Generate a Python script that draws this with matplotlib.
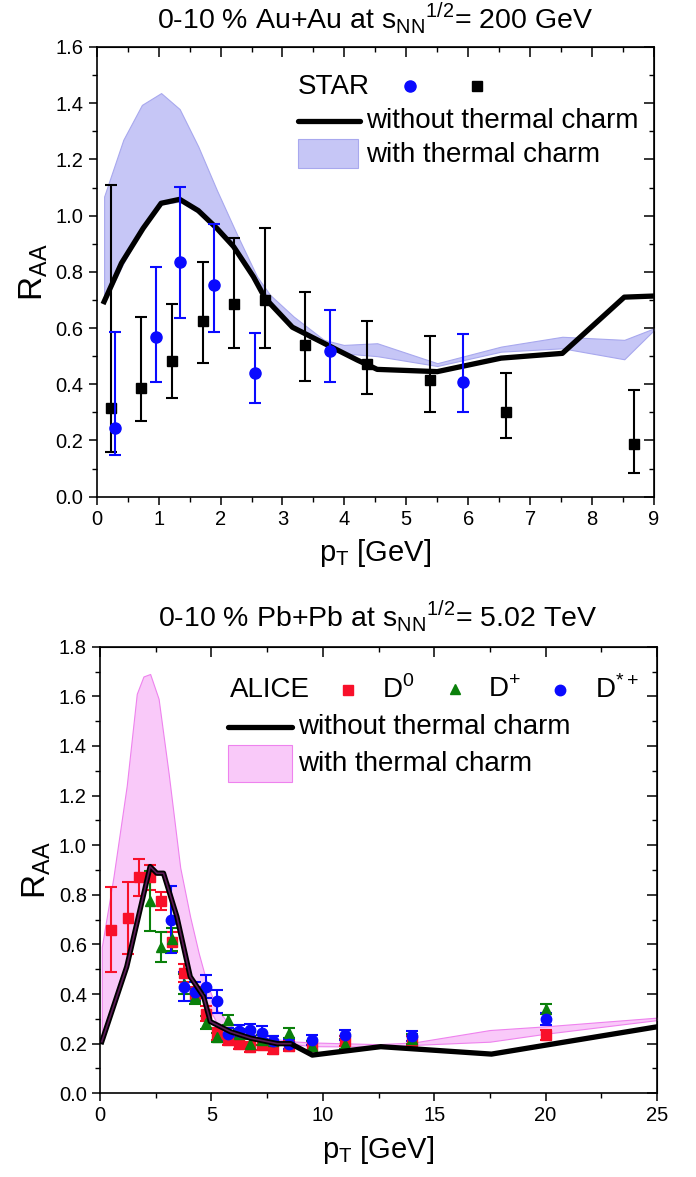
import numpy as np
import matplotlib
matplotlib.use('Agg')
import matplotlib.pyplot as plt
from matplotlib.patches import Rectangle
from matplotlib.ticker import MultipleLocator

plt.rcParams['font.family'] = ['Liberation Sans', 'DejaVu Sans']
plt.rcParams['mathtext.fontset'] = 'custom'
plt.rcParams['mathtext.rm'] = 'Liberation Sans'

# ---- top panel: Au+Au 200 GeV, STAR ----
star_sq_x = [0.23, 0.71, 1.21, 1.71, 2.21, 2.71, 3.37, 4.36, 5.39, 6.61, 8.67]
star_sq_y = [0.316, 0.388, 0.483, 0.625, 0.685, 0.70, 0.54, 0.472, 0.415, 0.302, 0.186]
star_sq_hi = [1.109, 0.641, 0.685, 0.835, 0.92, 0.957, 0.73, 0.626, 0.573, 0.439, 0.38]
star_sq_lo = [0.159, 0.269, 0.352, 0.477, 0.53, 0.53, 0.412, 0.364, 0.302, 0.21, 0.083]

star_ci_x = [0.30, 0.96, 1.34, 1.89, 2.56, 3.76, 5.91]
star_ci_y = [0.246, 0.567, 0.836, 0.753, 0.439, 0.52, 0.407]
star_ci_hi = [0.587, 0.818, 1.103, 0.969, 0.581, 0.664, 0.579]
star_ci_lo = [0.148, 0.409, 0.637, 0.585, 0.332, 0.407, 0.302]

rhic_x = [0.12, 0.40, 0.75, 1.04, 1.34, 1.64, 1.94, 2.21, 2.53, 2.72, 3.16, 3.67,
          4.21, 4.53, 5.50, 6.53, 7.52, 8.52, 9.0]
rhic_y = [0.694, 0.831, 0.955, 1.044, 1.058, 1.018, 0.955, 0.89, 0.783, 0.706, 0.603,
          0.546, 0.486, 0.453, 0.445, 0.493, 0.51, 0.71, 0.714]

rhic_band_x = [0.12, 0.43, 0.73, 1.04, 1.34, 1.64, 1.94, 2.27, 2.59, 2.80, 3.18, 3.67,
               3.99, 4.53, 5.50, 6.53, 7.52, 8.52, 9.0]
rhic_band_hi = [1.068, 1.27, 1.394, 1.436, 1.379, 1.246, 1.091, 0.931, 0.783, 0.718, 0.641,
                0.558, 0.54, 0.546, 0.475, 0.534, 0.569, 0.558, 0.599]
rhic_band_lo = [0.69, 0.83, 0.95, 1.04, 1.05, 1.01, 0.95, 0.87, 0.77, 0.70, 0.60,
                0.54, 0.51, 0.50, 0.465, 0.516, 0.528, 0.489, 0.593]

# ---- bottom panel: Pb+Pb 5.02 TeV, ALICE ----
d0_x = [0.5, 1.25, 1.75, 2.25, 2.75, 3.25, 3.75, 4.25, 4.75, 5.25, 5.75, 6.25, 6.75,
        7.25, 7.75, 8.5, 9.5, 11, 14, 20]
d0_y = [0.66, 0.705, 0.87, 0.87, 0.775, 0.61, 0.485, 0.40, 0.32, 0.24, 0.215, 0.20,
        0.185, 0.195, 0.18, 0.19, 0.19, 0.21, 0.21, 0.235]
d0_err = [0.17, 0.145, 0.075, 0.05, 0.035, 0.04, 0.035, 0.03, 0.03, 0.025, 0.02, 0.02,
          0.02, 0.02, 0.02, 0.02, 0.02, 0.02, 0.02, 0.02]

dp_x = [2.25, 2.75, 3.25, 3.75, 4.25, 4.75, 5.25, 5.75, 6.25, 6.75, 7.25, 7.75, 8.5,
        9.5, 11, 14, 20]
dp_y = [0.775, 0.59, 0.62, 0.44, 0.39, 0.285, 0.225, 0.295, 0.24, 0.20, 0.215, 0.21,
        0.242, 0.19, 0.20, 0.22, 0.34]
dp_err = [0.12, 0.06, 0.045, 0.04, 0.03, 0.025, 0.02, 0.02, 0.02, 0.02, 0.02, 0.02,
          0.02, 0.02, 0.02, 0.02, 0.02]

dst_x = [3.2, 3.75, 4.25, 4.75, 5.25, 5.75, 6.25, 6.75, 7.25, 7.75, 8.5, 9.5, 11, 14, 20]
dst_y = [0.70, 0.43, 0.41, 0.43, 0.37, 0.24, 0.25, 0.255, 0.245, 0.21, 0.20, 0.215,
         0.235, 0.23, 0.30]
dst_err = [0.135, 0.06, 0.04, 0.045, 0.047, 0.025, 0.025, 0.025, 0.025, 0.02, 0.02,
           0.02, 0.02, 0.02, 0.025]

lhc_x = [0.08, 1.20, 2.25, 2.55, 2.85, 3.45, 4.05, 4.65, 4.95, 5.86, 6.76, 7.96, 8.56,
         9.53, 12.6, 17.57, 25.0]
lhc_y = [0.208, 0.51, 0.914, 0.887, 0.887, 0.712, 0.47, 0.39, 0.289, 0.248, 0.222, 0.20,
         0.20, 0.154, 0.188, 0.158, 0.268]

lhc_band_x = [0.08, 0.6, 1.2, 1.65, 1.95, 2.25, 2.63, 3.08, 3.6, 4.05, 4.43, 4.8, 5.26,
              6.0, 7.5, 8.5, 9.5, 12.5, 14.1, 17.5, 20.0, 25.0]
lhc_band_hi = [0.59, 0.87, 1.24, 1.61, 1.68, 1.69, 1.59, 1.29, 0.91, 0.71, 0.565, 0.444,
               0.336, 0.26, 0.225, 0.21, 0.205, 0.198, 0.205, 0.255, 0.27, 0.305]
lhc_band_lo = [0.21, 0.37, 0.51, 0.68, 0.80, 0.91, 0.89, 0.85, 0.66, 0.47, 0.42, 0.36,
               0.28, 0.245, 0.215, 0.20, 0.19, 0.188, 0.195, 0.208, 0.24, 0.295]

W, H = 696, 1177
fig = plt.figure(figsize=(W / 100, H / 100), dpi=100)

LEG_FS = 20
TICK_FS = 14.5
TITLE_FS = 20.5


def frac(x0, y0, x1, y1):
    # pixel box -> figure fraction
    return [x0 / W, 1 - y1 / H, (x1 - x0) / W, (y1 - y0) / H]


def style_axes(ax, xmaj, xmin, ymaj, ymin):
    ax.xaxis.set_major_locator(MultipleLocator(xmaj))
    ax.xaxis.set_minor_locator(MultipleLocator(xmin))
    ax.yaxis.set_major_locator(MultipleLocator(ymaj))
    ax.yaxis.set_minor_locator(MultipleLocator(ymin))
    ax.yaxis.set_major_formatter(matplotlib.ticker.FormatStrFormatter('%.1f'))
    ax.tick_params(which='major', direction='out', length=6, width=1.1, labelsize=TICK_FS)
    ax.tick_params(which='minor', direction='out', length=3.5, width=1.0)
    for s in ax.spines.values():
        s.set_linewidth(1.2)
    top = ax.secondary_xaxis('top')
    top.xaxis.set_major_locator(MultipleLocator(xmaj))
    top.xaxis.set_minor_locator(MultipleLocator(xmin))
    top.tick_params(which='major', direction='in', length=7, width=1.1, labeltop=False)
    top.tick_params(which='minor', direction='in', length=3.5, width=1.0)
    right = ax.secondary_yaxis('right')
    right.yaxis.set_major_locator(MultipleLocator(ymaj))
    right.yaxis.set_minor_locator(MultipleLocator(ymin))
    right.tick_params(which='major', direction='in', length=7, width=1.1, labelright=False)
    right.tick_params(which='minor', direction='in', length=3.5, width=1.0)


# ================= top panel =================
ax1 = fig.add_axes(frac(96.7, 47, 654, 496.7))
band1_face, band1_edge = '#c6c6f6', '#a8a8ee'
ax1.fill_between(rhic_band_x, rhic_band_lo, rhic_band_hi, facecolor=band1_face,
                 edgecolor=band1_edge, lw=0.8, zorder=1)
ax1.plot(rhic_x, rhic_y, color='black', lw=3.8, solid_joinstyle='round', zorder=3)

sq_y = np.array(star_sq_y)
ax1.errorbar(star_sq_x, sq_y, yerr=[sq_y - np.array(star_sq_lo), np.array(star_sq_hi) - sq_y],
             fmt='s', color='black', ms=6.5, elinewidth=1.5, capsize=4, capthick=1.5, zorder=4)
ci_y = np.array(star_ci_y)
ax1.errorbar(star_ci_x, ci_y, yerr=[ci_y - np.array(star_ci_lo), np.array(star_ci_hi) - ci_y],
             fmt='o', color='#0a0aff', ms=8, elinewidth=1.5, capsize=4, capthick=1.5, zorder=5)

ax1.set_xlim(0, 9)
ax1.set_ylim(0, 1.6)
style_axes(ax1, 1, 0.5, 0.2, 0.1)
ax1.set_xlabel(r'p$_\mathregular{T}$ [GeV]', fontsize=21, labelpad=6)
ax1.set_ylabel(r'R$_\mathregular{AA}$', fontsize=24, labelpad=4)

# legend
t = ax1.transAxes
ax1.text(0.361, 0.911, 'STAR', transform=t, fontsize=LEG_FS, va='center', ha='left')
ax1.plot([0.562], [0.913], 'o', color='#0a0aff', ms=8, transform=t, clip_on=False)
ax1.plot([0.683], [0.913], 's', color='black', ms=6.5, transform=t, clip_on=False)
ax1.plot([0.361, 0.472], [0.835, 0.835], color='black', lw=3.8, transform=t,
         solid_capstyle='round')
ax1.text(0.483, 0.835, 'without thermal charm', transform=t, fontsize=LEG_FS, va='center')
ax1.add_patch(Rectangle((0.361, 0.731), 0.108, 0.064, transform=t,
                        facecolor=band1_face, edgecolor=band1_edge, lw=0.8))
ax1.text(0.483, 0.760, 'with thermal charm', transform=t, fontsize=LEG_FS, va='center')

fig.text(375 / W, 1 - 18 / H,
         r'0-10 % Au+Au at s$_\mathregular{NN}$$^\mathregular{1/2}$= 200 GeV',
         ha='center', va='center', fontsize=TITLE_FS)

# ================= bottom panel =================
ax2 = fig.add_axes(frac(100, 646.7, 657, 1093.3))
band2_face, band2_edge = '#f9c9f9', '#ee82ee'
ax2.fill_between(lhc_band_x, lhc_band_lo, lhc_band_hi, facecolor=band2_face,
                 edgecolor=band2_edge, lw=0.8, zorder=1)

ax2.errorbar(d0_x, d0_y, yerr=d0_err, fmt='s', color='#f8102a', ms=6.5, elinewidth=1.5,
             capsize=4, capthick=1.5, zorder=3)
ax2.errorbar(dp_x, dp_y, yerr=dp_err, fmt='^', color='#0a800a', ms=7.5, elinewidth=1.5,
             capsize=4, capthick=1.5, zorder=3)
ax2.errorbar(dst_x, dst_y, yerr=dst_err, fmt='o', color='#0a0aff', ms=7.5, elinewidth=1.5,
             capsize=4, capthick=1.5, zorder=3)

ax2.plot(lhc_x, lhc_y, color='black', lw=3.8, solid_joinstyle='round', zorder=4)
ax2.plot(lhc_x[:13], lhc_y[:13], color='#5a1a55', lw=1.2, zorder=5)

ax2.set_xlim(0, 25)
ax2.set_ylim(0, 1.8)
style_axes(ax2, 5, 2.5, 0.2, 0.1)
ax2.set_xlabel(r'p$_\mathregular{T}$ [GeV]', fontsize=21, labelpad=6)
ax2.set_ylabel(r'R$_\mathregular{AA}$', fontsize=24, labelpad=4)

t = ax2.transAxes
ax2.text(0.233, 0.903, 'ALICE', transform=t, fontsize=LEG_FS, va='center', ha='left')
ax2.plot([0.445], [0.903], 's', color='#f8102a', ms=6.5, transform=t)
ax2.text(0.506, 0.903, r'D$^\mathregular{0}$', transform=t, fontsize=LEG_FS, va='center')
ax2.plot([0.637], [0.905], '^', color='#0a800a', ms=7.5, transform=t)
ax2.text(0.697, 0.903, r'D$^\mathregular{+}$', transform=t, fontsize=LEG_FS, va='center')
ax2.plot([0.826], [0.903], 'o', color='#0a0aff', ms=7.5, transform=t)
ax2.text(0.889, 0.903, r'D$^\mathregular{*+}$', transform=t, fontsize=LEG_FS, va='center')
ax2.plot([0.230, 0.345], [0.820, 0.820], color='black', lw=3.8, transform=t,
         solid_capstyle='round')
ax2.text(0.355, 0.820, 'without thermal charm', transform=t, fontsize=LEG_FS, va='center')
ax2.add_patch(Rectangle((0.230, 0.697), 0.115, 0.083, transform=t,
                        facecolor=band2_face, edgecolor=band2_edge, lw=0.8))
ax2.text(0.355, 0.738, 'with thermal charm', transform=t, fontsize=LEG_FS, va='center')

fig.text(378 / W, 1 - 616 / H,
         r'0-10 % Pb+Pb at s$_\mathregular{NN}$$^\mathregular{1/2}$= 5.02 TeV',
         ha='center', va='center', fontsize=TITLE_FS)

fig.savefig('out.png', dpi=100)
